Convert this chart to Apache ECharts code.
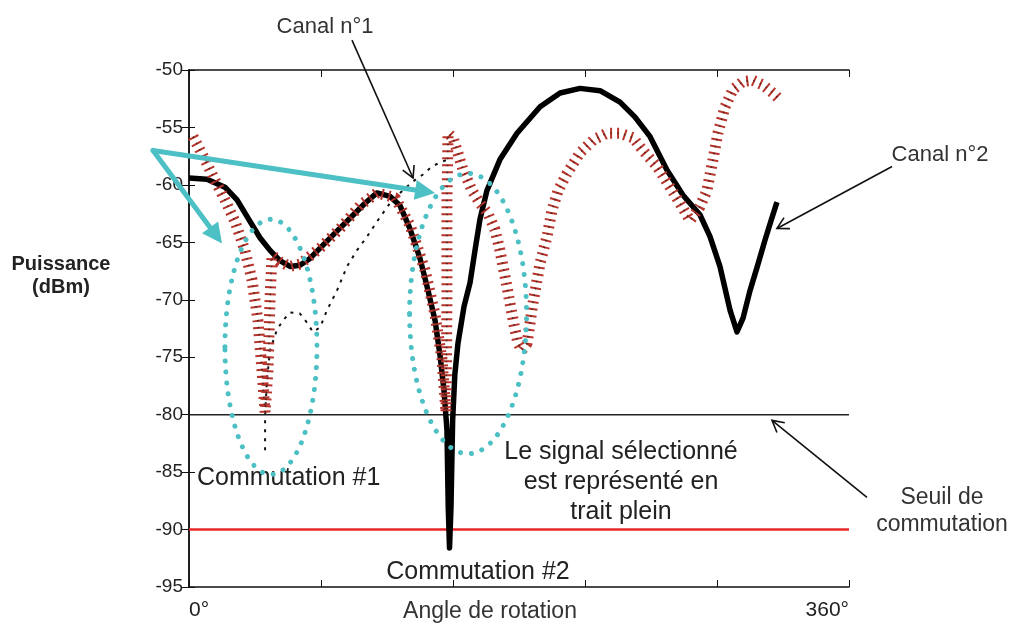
<!DOCTYPE html>
<html>
<head>
<meta charset="utf-8">
<title>Commutation entre canaux</title>
<script src="https://cdn.jsdelivr.net/npm/echarts@6/dist/echarts.min.js"></script>
<style>body{margin:0;background:#fff;}</style>
</head>
<body>
<div id="main" style="width:1013px;height:623px;"></div>
<script>
// [angle (°), puissance (dBm)]
const signalSelectionne = [
  [0,-59.4],[9.8,-59.5],[19.6,-60.2],[26.2,-61.3],[32.2,-62.9],[38.7,-64.6],[44.2,-65.7],[49.6,-66.6],
  [55.1,-67.1],[60.5,-67.0],[66.0,-66.4],[71.5,-65.5],[79.6,-64.2],[87.8,-62.9],[96.0,-61.6],[102.5,-60.7],
  [109.6,-61.0],[115.1,-61.8],[120.5,-63.8],[126.0,-66.4],[130.4,-69.2],[134.2,-71.8],[136.9,-74.8],
  [139.1,-77.9],[140.7,-81.3],[141.4,-88.0],[142.1,-91.6],[142.9,-88.0],[143.8,-80.5],[145.0,-76.5],
  [146.7,-73.8],[150.0,-70.6],[153.3,-68.5],[156.0,-65.7],[158.7,-63.0],[162.5,-60.5],[169.6,-57.8],
  [178.9,-55.5],[191.5,-53.2],[202.4,-52.0],[213.3,-51.6],[224.2,-51.8],[235.1,-52.8],[243.3,-54.1],
  [251.5,-55.8],[260.7,-58.7],[269.5,-60.9],[278.7,-62.6],[284.2,-64.5],[289.6,-67.1],[295.1,-70.9],
  [298.9,-72.8],[302.2,-71.6],[306.0,-69.2],[309.8,-67.2],[314.2,-64.8],[317.5,-63.1],[320.7,-61.5]
];
const canalHachure = [
  [2.2,-55.8],[8.7,-57.8],[14.2,-59.6],[19.6,-61.3],[25.1,-63.2],[30.5,-65.7],[34.4,-68.3],[37.6,-71.8],
  [39.8,-76.1],[41.5,-79.8],[43.1,-76.1],[44.2,-70.0],[45.3,-66.1],[49.6,-66.7],[55.1,-67.1],[60.5,-66.9],
  [71.5,-65.5],[82.4,-63.8],[93.3,-61.8],[102.5,-60.7],[112.4,-61.1],[120.5,-63.5],[128.7,-67.4],
  [134.2,-71.3],[138.0,-75.2],[140.2,-79.8],[140.7,-70.0],[140.7,-61.3],[141.3,-55.5],[144.0,-55.9],
  [146.2,-57.0],[149.5,-58.7],[154.4,-60.5],[158.7,-61.6],[163.1,-62.5],[166.9,-63.9],[169.6,-65.7],
  [172.4,-68.0],[175.1,-70.3],[177.8,-72.6],[179.5,-73.8],[181.6,-74.4],[184.4,-73.8],[187.6,-70.3],
  [191.5,-66.8],[195.3,-64.5],[198.0,-62.2],[201.3,-60.5],[206.2,-59.0],[213.3,-57.2],[220.4,-56.1],
  [228.0,-55.5],[235.1,-55.5],[242.2,-55.9],[247.6,-57.0],[255.3,-58.4],[262.4,-60.2],[267.8,-61.6],
  [273.3,-63.1],[278.7,-61.9],[282.5,-60.5],[285.8,-57.8],[288.5,-55.5],[292.4,-53.2],[296.7,-51.7],
  [302.2,-51.0],[307.6,-50.9],[313.1,-51.3],[318.5,-52.0],[322.4,-52.6]
];
const canalPointille = [
  [41.5,-83.1],[41.5,-80.2],[42.5,-77.0],[44.2,-74.4],[48.0,-72.6],[51.3,-71.8],[55.1,-71.1],[60.5,-71.2],
  [64.4,-72.0],[67.6,-72.8],[71.5,-72.4],[75.3,-70.9],[80.7,-69.2],[86.2,-67.1],[91.6,-65.7],[97.1,-64.5],
  [102.5,-63.2],[109.6,-61.6],[115.1,-60.7],[122.2,-59.7],[127.6,-59.1],[132.5,-58.4],[137.5,-58.0],[141.3,-57.8]
];
const seuilCommutation = -80;
const niveauRouge = -90;
const angleMin = 0, angleMax = 360, angleStep = 72;
const dbMin = -95, dbMax = -50, dbStep = 5;

// annotations: ellipses [cx, cy, rx, ry] et flèches [x1, y1, x2, y2] en unités des axes
const zonesCommutation = [[44.7,-74.1,25.1,11.1],[152.2,-71.2,31.9,12.2]];
const flechesCyan = [[-19.6,-57.0,18.0,-65.1],[-19.6,-57.0,134.2,-60.7]];
const flechesNoires = [[88.9,-47.4,122.2,-59.4],[383.5,-58.4,320.7,-63.8],[369.8,-87.2,318.0,-80.5]];

const FONT = '"Liberation Sans", Arial, sans-serif';
const CYAN = '#4cc0c4';

function arrowItem(api, filled) {
  const p1 = api.coord([api.value(0), api.value(1)]);
  const p2 = api.coord([api.value(2), api.value(3)]);
  const a = Math.atan2(p2[1] - p1[1], p2[0] - p1[0]);
  if (filled) {
    const L = 20, W = 10;
    const bx = p2[0] - L * Math.cos(a), by = p2[1] - L * Math.sin(a);
    return { type: 'group', children: [
      { type: 'line', shape: { x1: p1[0], y1: p1[1], x2: bx, y2: by },
        style: { stroke: CYAN, lineWidth: 5, lineCap: 'round' } },
      { type: 'polygon', shape: { points: [p2,
          [bx + W * Math.sin(a), by - W * Math.cos(a)],
          [bx - W * Math.sin(a), by + W * Math.cos(a)]] },
        style: { fill: CYAN } }
    ]};
  }
  const L = 13, s = 0.5;
  return { type: 'group', children: [
    { type: 'line', shape: { x1: p1[0], y1: p1[1], x2: p2[0], y2: p2[1] },
      style: { stroke: '#111', lineWidth: 1.6 } },
    { type: 'polyline', shape: { points: [
        [p2[0] - L * Math.cos(a - s), p2[1] - L * Math.sin(a - s)], p2,
        [p2[0] - L * Math.cos(a + s), p2[1] - L * Math.sin(a + s)]] },
      style: { stroke: '#111', lineWidth: 1.6, fill: 'none' } }
  ]};
}

const chart = echarts.init(document.getElementById('main'));
chart.setOption({
  animation: false,
  backgroundColor: '#fff',
  grid: { left: 189, right: 164, top: 70, bottom: 36 },
  xAxis: [{
    type: 'value', min: angleMin, max: angleMax, interval: angleStep,
    axisLine: { lineStyle: { color: '#111', width: 1.5 } },
    axisTick: { inside: true, length: 7, lineStyle: { color: '#111' } },
    splitLine: { show: false },
    axisLabel: {
      margin: 13, color: '#222', fontSize: 21, fontFamily: FONT,
      showMinLabel: true, showMaxLabel: true, alignMinLabel: 'left', alignMaxLabel: 'right',
      formatter: v => v === angleMin ? '0°' : (v === angleMax ? '360°' : '')
    }
  }, {
    type: 'value', position: 'top', min: angleMin, max: angleMax, interval: angleStep,
    axisLine: { lineStyle: { color: '#111', width: 1.5 } },
    axisTick: { inside: true, length: 7, lineStyle: { color: '#111' } },
    splitLine: { show: false }, axisLabel: { show: false }
  }],
  yAxis: [{
    type: 'value', min: dbMin, max: dbMax, interval: dbStep,
    axisLine: { show: true, lineStyle: { color: '#111', width: 1.5 } },
    axisTick: { show: true, inside: true, length: 6, lineStyle: { color: '#111' } },
    splitLine: { show: false },
    axisLabel: { margin: 6, color: '#222', fontSize: 19, fontFamily: FONT }
  }, {
    type: 'value', position: 'right', min: dbMin, max: dbMax, interval: dbStep,
    axisLine: { show: true, lineStyle: { color: '#111', width: 1.5 } },
    axisTick: { show: true, inside: true, length: 7, lineStyle: { color: '#111' } },
    splitLine: { show: false }, axisLabel: { show: false }
  }],
  series: [
    {
      type: 'line', data: [[angleMin, seuilCommutation], [angleMax, seuilCommutation]],
      showSymbol: false, silent: true, lineStyle: { color: '#222', width: 1.5 }, z: 2
    },
    {
      type: 'line', data: [[angleMin, niveauRouge], [angleMax, niveauRouge]],
      showSymbol: false, silent: true, lineStyle: { color: '#e8262b', width: 2.5 }, z: 2
    },
    {
      name: 'Canal n°1', type: 'line', data: canalPointille, showSymbol: false,
      lineStyle: { color: '#111', width: 2, type: [3, 6] }, z: 3
    },
    {
      name: 'Signal sélectionné', type: 'line', data: signalSelectionne, showSymbol: false,
      lineStyle: { color: '#000', width: 5.5, join: 'round' }, z: 4
    },
    {
      name: 'Canal n°2', type: 'line', data: canalHachure, showSymbol: false,
      lineStyle: { color: '#b7352d', width: 11, type: [2, 5], cap: 'butt' }, z: 5
    },
    {
      type: 'line', data: canalHachure, showSymbol: false, silent: true,
      lineStyle: { color: '#2a1a14', width: 1.6, type: [1.5, 5.5], opacity: 0.7 }, z: 6
    },
    {
      type: 'custom', data: zonesCommutation, clip: false, silent: true, z: 7,
      renderItem: (params, api) => {
        const c = api.coord([api.value(0), api.value(1)]);
        const s = api.size([api.value(2), api.value(3)]);
        return { type: 'ellipse', shape: { cx: c[0], cy: c[1], rx: s[0], ry: s[1] },
          style: { fill: 'none', stroke: CYAN, lineWidth: 5, lineDash: [0.01, 11], lineCap: 'round' } };
      }
    },
    {
      type: 'custom', data: flechesCyan, clip: false, silent: true, z: 8,
      renderItem: (params, api) => arrowItem(api, true)
    },
    {
      type: 'custom', data: flechesNoires, clip: false, silent: true, z: 8,
      renderItem: (params, api) => arrowItem(api, false)
    }
  ],
  graphic: [
    { type: 'text', x: 325, y: 27, style: { text: 'Canal n°1', font: '22px ' + FONT, fill: '#333', align: 'center', verticalAlign: 'middle' } },
    { type: 'text', x: 940, y: 155, style: { text: 'Canal n°2', font: '22px ' + FONT, fill: '#333', align: 'center', verticalAlign: 'middle' } },
    { type: 'text', x: 61, y: 276, style: { text: 'Puissance\n(dBm)', font: 'bold 20px ' + FONT, lineHeight: 23, fill: '#222', align: 'center', verticalAlign: 'middle' } },
    { type: 'text', x: 197, y: 478, style: { text: 'Commutation #1', font: '25px ' + FONT, fill: '#222', align: 'left', verticalAlign: 'middle' } },
    { type: 'text', x: 478, y: 572, style: { text: 'Commutation #2', font: '25px ' + FONT, fill: '#222', align: 'center', verticalAlign: 'middle' } },
    { type: 'text', x: 621, y: 482, style: { text: 'Le signal sélectionné\nest représenté en\ntrait plein', font: '25px ' + FONT, lineHeight: 30, fill: '#222', align: 'center', verticalAlign: 'middle' } },
    { type: 'text', x: 942, y: 511, style: { text: 'Seuil de\ncommutation', font: '23px ' + FONT, lineHeight: 27, fill: '#333', align: 'center', verticalAlign: 'middle' } },
    { type: 'text', x: 490, y: 612, style: { text: 'Angle de rotation', font: '23px ' + FONT, fill: '#333', align: 'center', verticalAlign: 'middle' } }
  ]
});
</script>
</body>
</html>
